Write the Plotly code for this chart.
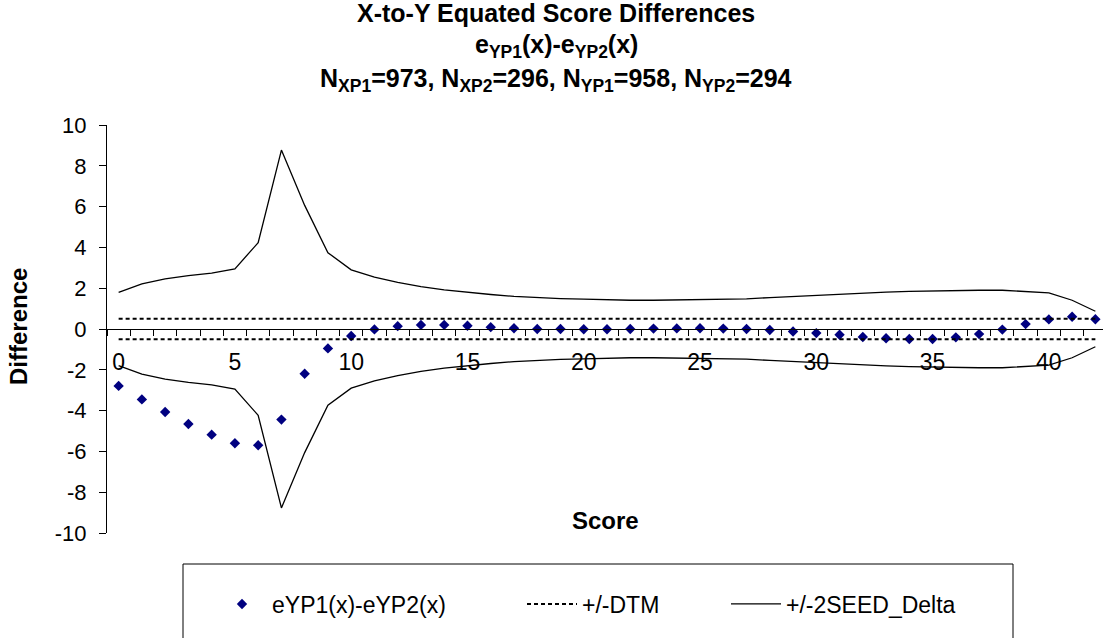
import plotly.graph_objects as go

# ---- data ----
score = list(range(0, 43))
diff = [-2.79, -3.45, -4.07, -4.66, -5.18, -5.60, -5.70, -4.44, -2.19, -0.95,
        -0.34, -0.02, 0.14, 0.20, 0.20, 0.16, 0.09, 0.04, 0.00, 0.00,
        -0.01, -0.01, 0.00, 0.02, 0.03, 0.04, 0.02, 0.00, -0.05, -0.12,
        -0.20, -0.28, -0.39, -0.45, -0.49, -0.49, -0.41, -0.25, -0.03, 0.24,
        0.47, 0.60, 0.48]
seed2 = [1.80, 2.21, 2.46, 2.62, 2.74, 2.95, 4.23, 8.77, 6.06, 3.74,
         2.90, 2.54, 2.29, 2.08, 1.92, 1.79, 1.69, 1.60, 1.54, 1.49,
         1.46, 1.43, 1.41, 1.41, 1.43, 1.45, 1.45, 1.48, 1.54, 1.60,
         1.66, 1.71, 1.76, 1.81, 1.84, 1.87, 1.89, 1.90, 1.90, 1.85,
         1.77, 1.41, 0.87]
dtm = 0.5
x_ticks = [0, 5, 10, 15, 20, 25, 30, 35, 40]
y_ticks = [-10, -8, -6, -4, -2, 0, 2, 4, 6, 8, 10]

FONT = "Liberation Sans, Arial, sans-serif"
W, H = 1103, 638
ML, MT, MB, MR = 107, 125, 105, 0
PW = W - ML - MR
PH = H - MT - MB

def px(xpix):
    return (xpix - ML) / PW

def py(ypix):
    return (H - MB - ypix) / PH

fig = go.Figure()

fig.add_trace(go.Scatter(
    x=score, y=diff, mode="markers", name="eYP1(x)-eYP2(x)",
    marker=dict(symbol="diamond", size=8, color="#000080"),
    legend="legend"))

fig.add_trace(go.Scatter(
    x=score + [None] + score,
    y=[dtm] * len(score) + [None] + [-dtm] * len(score),
    mode="lines", name="+/-DTM",
    line=dict(color="black", width=2, dash="4px,3px"),
    legend="legend2"))

fig.add_trace(go.Scatter(
    x=score + [None] + score,
    y=seed2 + [None] + [-v for v in seed2],
    mode="lines", name="+/-2SEED_Delta",
    line=dict(color="black", width=1.3),
    legend="legend3"))

legend_common = dict(orientation="h", font=dict(family=FONT, size=23, color="black"),
                     bgcolor="rgba(0,0,0,0)", borderwidth=0, itemwidth=50,
                     xanchor="left", yanchor="middle", y=py(604))

fig.update_layout(
    width=W, height=H,
    margin=dict(l=ML, r=MR, t=MT, b=MB),
    paper_bgcolor="white", plot_bgcolor="white",
    font=dict(family=FONT, color="black"),
    showlegend=True,
    legend=dict(**legend_common, x=px(212)),
    legend2=dict(**legend_common, x=px(522)),
    legend3=dict(**legend_common, x=px(726)),
    xaxis=dict(
        range=[-0.5, 42.5 - 4 / 23.26],
        anchor="free", position=0.5,
        showline=True, linecolor="black", linewidth=1,
        showgrid=False, zeroline=False,
        tickmode="array", tickvals=x_ticks, ticktext=[str(v) for v in x_ticks],
        ticks="", ticklabelstandoff=12,
        tickfont=dict(family=FONT, size=23, color="black"),
        minor=dict(ticks="outside", tick0=0.5, dtick=1, ticklen=6,
                   tickcolor="black", tickwidth=1, showgrid=False),
    ),
    yaxis=dict(
        range=[-10, 10],
        showline=True, linecolor="black", linewidth=1,
        showgrid=False, zeroline=False,
        tickmode="array", tickvals=y_ticks, ticktext=[str(v) for v in y_ticks],
        ticks="outside", ticklen=7, tickcolor="black",
        ticklabelstandoff=8,
        tickfont=dict(family=FONT, size=22, color="black"),
    ),
    shapes=[dict(type="rect", xref="paper", yref="paper",
                 x0=px(183), x1=px(1013), y0=py(660), y1=py(564),
                 line=dict(color="black", width=1), fillcolor="rgba(0,0,0,0)",
                 layer="below")],
)

ann_font = dict(family=FONT, size=25, color="black")
title_lines = [
    ("<b>X-to-Y Equated Score Differences</b>", 13),
    ("<b>e<sub>YP1</sub>(x)-e<sub>YP2</sub>(x)</b>", 46),
    ("<b>N<sub>XP1</sub>=973, N<sub>XP2</sub>=296, N<sub>YP1</sub>=958, N<sub>YP2</sub>=294</b>", 80),
]
for txt, ycen in title_lines:
    fig.add_annotation(text=txt, xref="paper", yref="paper", x=px(556), y=py(ycen),
                       xanchor="center", yanchor="middle", showarrow=False, font=ann_font)

fig.add_annotation(text="<b>Score</b>", xref="paper", yref="paper", x=px(605), y=py(520),
                   xanchor="center", yanchor="middle", showarrow=False,
                   font=dict(family=FONT, size=24, color="black"))
fig.add_annotation(text="<b>Difference</b>", xref="paper", yref="paper", x=px(18), y=py(327),
                   xanchor="center", yanchor="middle", showarrow=False, textangle=-90,
                   font=dict(family=FONT, size=24, color="black"))

fig.write_html("out.html")
